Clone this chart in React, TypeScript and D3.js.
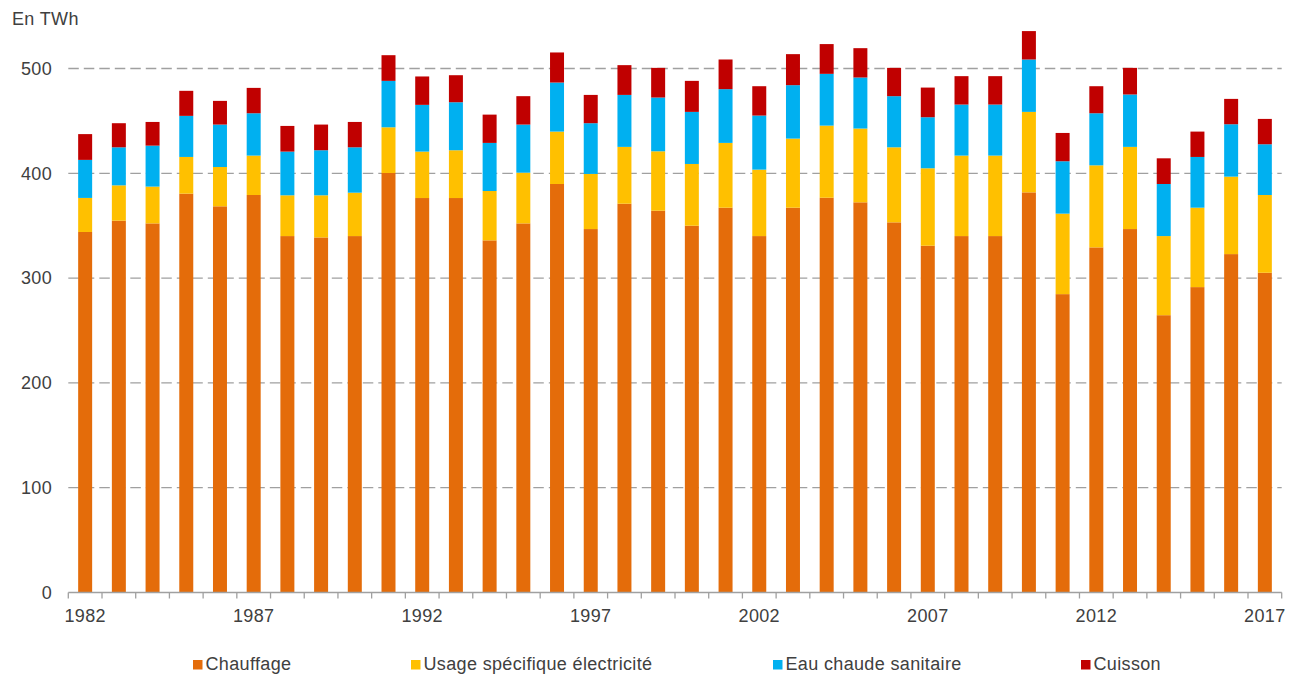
import React from 'react';
import * as d3 from 'd3';

// ---- Data (TWh) ----
const years = [
  '1982', '1983', '1984', '1985', '1986', '1987', '1988', '1989', '1990', '1991', '1992', '1993',
  '1994', '1995', '1996', '1997', '1998', '1999', '2000', '2001', '2002', '2003', '2004', '2005',
  '2006', '2007', '2008', '2009', '2010', '2011', '2012', '2013', '2014', '2015', '2016', '2017',
];

const chauffage = [
  344.0, 354.8, 352.2, 380.6, 368.5, 379.3, 340.1, 338.8, 340.1, 400.3, 376.4, 376.4,
  336.0, 352.2, 389.8, 346.8, 371.0, 364.3, 350.0, 367.2, 340.1, 367.2, 376.7, 372.3,
  353.2, 330.9, 340.1, 340.1, 381.8, 284.7, 329.3, 346.8, 264.6, 291.4, 322.9, 305.1,
];

const usageSpecifique = [
  32.5, 33.7, 35.1, 35.0, 37.5, 37.6, 38.9, 40.2, 41.4, 43.6, 44.3, 45.6,
  47.1, 48.4, 50.0, 52.6, 54.2, 56.7, 58.9, 61.8, 63.4, 65.9, 68.8, 70.4,
  71.6, 73.9, 76.8, 76.8, 76.8, 76.8, 78.3, 78.4, 75.5, 75.8, 73.9, 74.2,
];

const eauChaude = [
  36.3, 36.3, 39.1, 39.2, 40.5, 40.4, 41.7, 43.0, 43.3, 44.3, 44.6, 45.8,
  45.9, 45.9, 46.8, 48.4, 49.6, 51.3, 49.7, 51.3, 51.6, 51.0, 49.4, 48.7,
  48.8, 48.7, 48.7, 48.7, 50.0, 50.0, 49.7, 50.0, 49.7, 48.4, 50.0, 48.4,
];

const cuisson = [
  24.6, 23.0, 22.6, 23.9, 22.6, 24.2, 24.5, 24.5, 24.2, 24.5, 27.1, 25.8,
  27.0, 27.1, 28.7, 27.0, 28.4, 28.3, 29.6, 28.3, 28.0, 29.6, 28.4, 28.0,
  27.0, 28.3, 27.1, 27.1, 27.1, 27.0, 25.8, 25.4, 24.5, 24.2, 24.2, 24.2,
];

const seriesKeys = ['chauffage', 'usage', 'eau', 'cuisson'];
const seriesNames = ['Chauffage', 'Usage spécifique électricité', 'Eau chaude sanitaire', 'Cuisson'];
const seriesColors = ['#E46C0A', '#FFC000', '#00B0F0', '#C00000'];

const yTicks = [0, 100, 200, 300, 400, 500];
const xLabelYears = ['1982', '1987', '1992', '1997', '2002', '2007', '2012', '2017'];
const unitLabel = 'En TWh';

// ---- Layout ----
const W = 1301;
const H = 675;
const plotLeft = 68.3;
const plotRight = 1281.7;
const plotBottom = 592.5;
const plotTop500 = 68.5;
const legendX = [193, 411, 773, 1081];
const FONT = '"Liberation Sans", Arial, sans-serif';
const TEXT = '#404040';
const FS = 18;
const LS = 0.35;

export default function App() {
  const pad = 0.585;
  const x = d3
    .scaleBand<string>()
    .domain(years)
    .range([plotLeft, plotRight])
    .paddingInner(pad)
    .paddingOuter(pad / 2);
  const y = d3.scaleLinear().domain([0, 500]).range([plotBottom, plotTop500]);

  const rows = years.map((yr, i) => ({
    year: yr,
    chauffage: chauffage[i],
    usage: usageSpecifique[i],
    eau: eauChaude[i],
    cuisson: cuisson[i],
  }));
  const stacked = d3.stack<any>().keys(seriesKeys)(rows);

  const step = x.step();
  const tickXs = d3.range(years.length + 1).map((i) => plotLeft + i * step);

  return (
    <svg
      width={W}
      height={H}
      style={{ position: 'absolute', left: 0, top: 0, background: '#fff' }}
      fontFamily={FONT}
      letterSpacing={LS}
    >
      <rect x={0} y={0} width={W} height={H} fill="#fff" />
      {/* unit label */}
      <text x={12} y={25} fontSize={FS} fill={TEXT}>
        {unitLabel}
      </text>

      {/* gridlines */}
      {yTicks
        .filter((t) => t > 0)
        .map((t) => (
          <line
            key={'g' + t}
            x1={plotLeft}
            x2={plotRight}
            y1={y(t)}
            y2={y(t)}
            stroke="#A0A0A0"
            strokeWidth={1.3}
            strokeDasharray="10.5,5"
          />
        ))}

      {/* y tick labels */}
      {yTicks.map((t) => (
        <text
          key={'yl' + t}
          x={52}
          y={y(t)}
          dy="0.35em"
          textAnchor="end"
          fontSize={FS}
          fill={TEXT}
        >
          {t}
        </text>
      ))}

      {/* bars */}
      {stacked.map((s, si) => (
        <g key={s.key} fill={seriesColors[si]}>
          {s.map((d: any) => (
            <rect
              key={d.data.year}
              x={x(d.data.year)}
              width={x.bandwidth()}
              y={y(d[1])}
              height={y(d[0]) - y(d[1])}
            />
          ))}
        </g>
      ))}

      {/* x axis */}
      <line x1={plotLeft} x2={plotRight} y1={plotBottom} y2={plotBottom} stroke="#A0A0A0" strokeWidth={1.3} />
      {tickXs.map((tx, i) => (
        <line key={'t' + i} x1={tx} x2={tx} y1={plotBottom} y2={plotBottom + 6} stroke="#A0A0A0" strokeWidth={1.3} />
      ))}
      {xLabelYears.map((yr) => (
        <text
          key={'xl' + yr}
          x={(x(yr) as number) + x.bandwidth() / 2}
          y={622}
          textAnchor="middle"
          fontSize={FS}
          fill={TEXT}
        >
          {yr}
        </text>
      ))}

      {/* legend */}
      {seriesNames.map((name, i) => (
        <g key={name}>
          <rect x={legendX[i]} y={660} width={9.5} height={9.5} fill={seriesColors[i]} />
          <text x={legendX[i] + 12.5} y={669.5} fontSize={FS} fill={TEXT}>
            {name}
          </text>
        </g>
      ))}
    </svg>
  );
}
